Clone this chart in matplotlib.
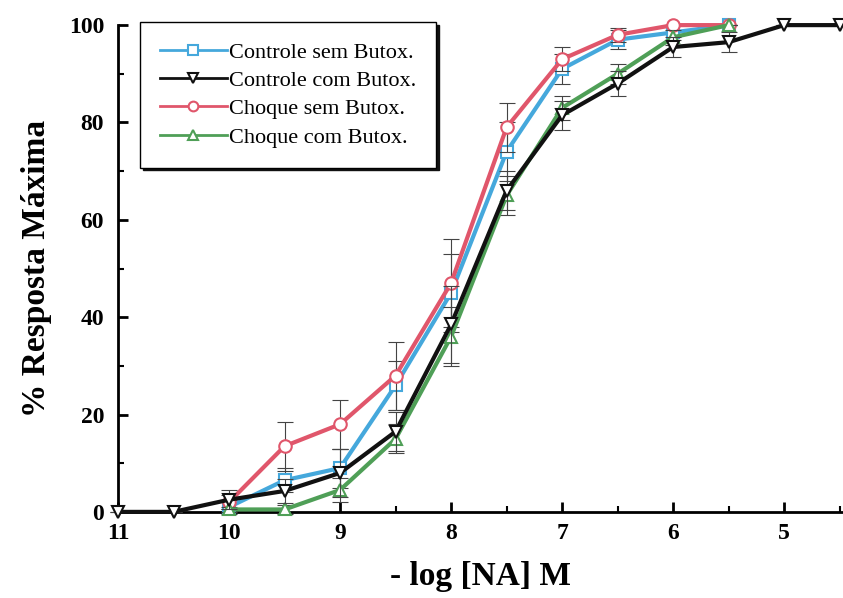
import matplotlib
matplotlib.use("Agg")
import matplotlib.pyplot as plt
from matplotlib.ticker import MultipleLocator

# dados (-log [NA] M, % resposta máxima, erro padrão)
x_ctrl_com = [11, 10.5, 10, 9.5, 9, 8.5, 8, 7.5, 7, 6.5, 6, 5.5, 5, 4.5]
x_outros = [10, 9.5, 9, 8.5, 8, 7.5, 7, 6.5, 6, 5.5]

ctrl_sem = [1.0, 6.5, 9.0, 26, 45, 74, 91, 97, 98.5, 100]
ctrl_sem_err = [1.5, 2.5, 4, 5, 8, 6, 3, 2, 1.5, 0]

ctrl_com = [0, 0, 2.5, 4.3, 8, 16.5, 38.5, 66, 81.5, 88, 95.5, 96.5, 100, 100]
ctrl_com_err = [0, 0, 2, 2.5, 5, 4, 8, 4, 3, 2.5, 2, 2, 0, 0]

choque_sem = [2, 13.5, 18, 28, 47, 79, 93, 98, 100, 100]
choque_sem_err = [1.5, 5, 5, 7, 9, 5, 2.5, 1.5, 0, 0]

choque_com = [0.5, 0.5, 4.5, 15, 36, 65, 83, 90, 97.5, 100]
choque_com_err = [0.5, 1, 2.5, 3, 6, 4, 2.5, 2, 1.5, 0]

labels = ["Controle sem Butox.", "Controle com Butox.",
          "Choque sem Butox.", "Choque com Butox."]

plt.rcParams['font.family'] = ['Liberation Serif', 'DejaVu Serif']

fig = plt.figure(figsize=(8.43, 5.98), dpi=100)
ax = fig.add_axes([0.14, 0.144, 0.86, 0.814])

series = [
    (x_outros, ctrl_sem, ctrl_sem_err, '#45a8dc', 's', labels[0], 3),
    (x_ctrl_com, ctrl_com, ctrl_com_err, '#111111', 'v', labels[1], 6),
    (x_outros, choque_sem, choque_sem_err, '#e0566b', 'o', labels[2], 4),
    (x_outros, choque_com, choque_com_err, '#4f9f57', '^', labels[3], 5),
]

handles = []
for xs, ys, es, cor, mk, lab, z in series:
    ax.errorbar(xs, ys, yerr=es, fmt='none', ecolor='#444444',
                elinewidth=0.8, capsize=6, capthick=0.8, zorder=z - 0.5,
                clip_on=False)
    ln, = ax.plot(xs, ys, color=cor, lw=3, marker=mk, markersize=9,
                  markerfacecolor='white', markeredgecolor=cor,
                  markeredgewidth=1.5, label=lab, zorder=z, clip_on=False)
    handles.append(ln)

ax.set_xlim(11, 4.47)
ax.set_ylim(0, 100)
ax.xaxis.set_major_locator(MultipleLocator(1))
ax.xaxis.set_minor_locator(MultipleLocator(0.5))
ax.yaxis.set_major_locator(MultipleLocator(20))
ax.yaxis.set_minor_locator(MultipleLocator(10))
ax.tick_params(direction='in', which='major', length=7, width=2)
ax.tick_params(direction='in', which='minor', length=4, width=1.5)
ax.tick_params(axis='both', labelsize=17)
ax.tick_params(axis='x', pad=8)
ax.tick_params(axis='y', pad=10)
for t in ax.get_xticklabels() + ax.get_yticklabels():
    t.set_fontweight('bold')

ax.spines['top'].set_visible(False)
ax.spines['right'].set_visible(False)
ax.spines['left'].set_linewidth(2)
ax.spines['bottom'].set_linewidth(2)

ax.set_xlabel('- log [NA] M', fontsize=24, fontweight='bold', labelpad=12)
ax.set_ylabel('% Resposta Máxima', fontsize=24, fontweight='bold', labelpad=12)

leg = ax.legend(handles=handles, loc='upper left',
                bbox_to_anchor=(140 / 843, 1 - 22 / 598),
                bbox_transform=fig.transFigure, borderaxespad=0,
                fontsize=16, handlelength=3.0, handletextpad=0.1,
                labelspacing=0.35, borderpad=0.9, fancybox=False,
                framealpha=1, edgecolor='black',
                shadow={'color': '#111111', 'alpha': 1})
leg.get_frame().set_linewidth(1.0)
for h in leg.legend_handles:
    h.set_linewidth(2)
    h.set_markersize(7)

fig.savefig('out.png', dpi=100)
